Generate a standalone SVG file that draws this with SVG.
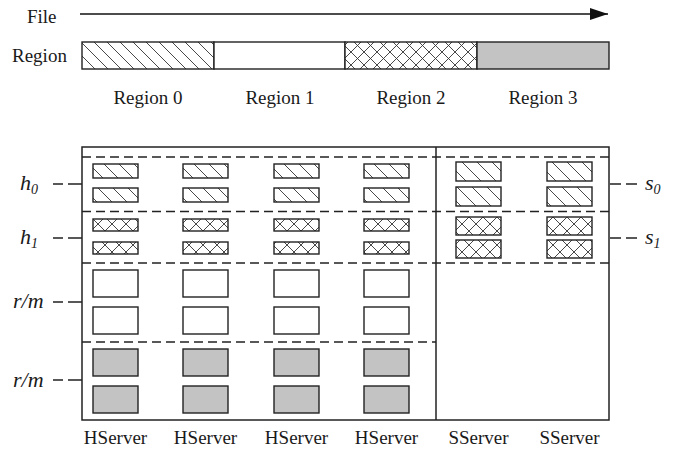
<svg xmlns="http://www.w3.org/2000/svg" width="677" height="450" viewBox="0 0 677 450">
<defs>
<style>
text{font-family:"Liberation Serif","Times New Roman",serif;fill:#1a1a1a}
.lbl{font-size:19px}
.mid{text-anchor:middle}
.it{font-style:italic;font-size:22px}
.sub{font-size:14px;font-style:italic}
.box{stroke:#222;stroke-width:1.4}
.dash{fill:none;stroke:#222;stroke-width:1.3;stroke-dasharray:9 5}
.tick{fill:none;stroke:#222;stroke-width:1.3}
.frame{fill:none;stroke:#222;stroke-width:1.5}
.white{fill:#fff}
.gray{fill:#c3c3c3}
.hatch{fill:url(#hatch)}
.cross{fill:url(#cross)}
.shatch{fill:url(#shatch)}
.scross{fill:url(#scross)}
</style>
<pattern id="hatch" patternUnits="userSpaceOnUse" width="13" height="13">
<rect width="13" height="13" fill="#fff"/>
<path d="M0,0 L13,13 M-2,11 L2,15 M11,-2 L15,2" stroke="#333" stroke-width="0.9"/>
</pattern>
<pattern id="cross" patternUnits="userSpaceOnUse" width="13" height="13">
<rect width="13" height="13" fill="#fff"/>
<path d="M0,0 L13,13 M-2,11 L2,15 M11,-2 L15,2 M13,0 L0,13 M-2,2 L2,-2 M11,15 L15,11" stroke="#333" stroke-width="0.9"/>
</pattern>
<pattern id="shatch" patternUnits="userSpaceOnUse" width="15" height="15">
<rect width="15" height="15" fill="#fff"/>
<path d="M0,0 L15,15 M-2,13 L2,17 M13,-2 L17,2" stroke="#333" stroke-width="0.9"/>
</pattern>
<pattern id="scross" patternUnits="userSpaceOnUse" width="14" height="14">
<rect width="14" height="14" fill="#fff"/>
<path d="M0,0 L14,14 M-2,12 L2,16 M12,-2 L16,2 M14,0 L0,14 M-2,2 L2,-2 M12,16 L16,12" stroke="#333" stroke-width="0.9"/>
</pattern>
<marker id="arrow" markerWidth="18" markerHeight="12" refX="18" refY="6" orient="auto" markerUnits="userSpaceOnUse">
<path d="M0,0 L18,6 L0,12 Z" fill="#111"/>
</marker>
</defs>

<g id="file">
<text class="lbl" x="27" y="23">File</text>
<line x1="80" y1="14" x2="608" y2="14" stroke="#111" stroke-width="1.5" marker-end="url(#arrow)"/>
</g>

<g id="region-bar">
<text class="lbl" x="12" y="62">Region</text>
<rect class="box hatch" x="82" y="42" width="132" height="27"/>
<rect class="box white" x="214" y="42" width="131" height="27"/>
<rect class="box cross" x="345" y="42" width="132" height="27"/>
<rect class="box gray" x="477" y="42" width="132" height="27"/>
<text class="lbl mid" x="148" y="104">Region 0</text>
<text class="lbl mid" x="280" y="104">Region 1</text>
<text class="lbl mid" x="411" y="104">Region 2</text>
<text class="lbl mid" x="543" y="104">Region 3</text>
</g>

<g id="servers-frame">
<rect class="frame" x="82" y="147" width="527" height="273"/>
<line x1="436" y1="147" x2="436" y2="420" stroke="#222" stroke-width="1.5"/>
</g>

<g id="connectors">
<path class="dash" d="M82,157 H609 M82,211.5 H609 M82,263 H609 M82,342 H436"/>
<path class="tick" d="M53,184 H63 M68,184 H82 M53,238 H63 M68,238 H82 M53,302 H63 M68,302 H82 M53,380 H63 M68,380 H82 M610,184 H621 M626,184 H637 M610,238 H621 M626,238 H637"/>
</g>

<g id="labels-left">
<text class="it" x="20" y="190">h<tspan class="sub" dy="4">0</tspan></text>
<text class="it" x="20" y="244">h<tspan class="sub" dy="4">1</tspan></text>
<text class="it" x="13" y="308">r/m</text>
<text class="it" x="13" y="387">r/m</text>
</g>

<g id="labels-right">
<text class="it" x="645" y="190">s<tspan class="sub" dy="4">0</tspan></text>
<text class="it" x="645" y="244">s<tspan class="sub" dy="4">1</tspan></text>
</g>

<g id="hserver-1">
<rect class="box shatch" x="93" y="164" width="45" height="14"/>
<rect class="box shatch" x="93" y="188" width="45" height="14"/>
<rect class="box scross" x="93" y="219" width="45" height="12"/>
<rect class="box scross" x="93" y="242" width="45" height="12"/>
<rect class="box white" x="93" y="270" width="45" height="27"/>
<rect class="box white" x="93" y="307" width="45" height="27"/>
<rect class="box gray" x="93" y="349" width="45" height="27"/>
<rect class="box gray" x="93" y="386" width="45" height="27"/>
<text class="lbl mid" x="115.5" y="444">HServer</text>
</g>
<g id="hserver-2">
<rect class="box shatch" x="183" y="164" width="45" height="14"/>
<rect class="box shatch" x="183" y="188" width="45" height="14"/>
<rect class="box scross" x="183" y="219" width="45" height="12"/>
<rect class="box scross" x="183" y="242" width="45" height="12"/>
<rect class="box white" x="183" y="270" width="45" height="27"/>
<rect class="box white" x="183" y="307" width="45" height="27"/>
<rect class="box gray" x="183" y="349" width="45" height="27"/>
<rect class="box gray" x="183" y="386" width="45" height="27"/>
<text class="lbl mid" x="205.5" y="444">HServer</text>
</g>
<g id="hserver-3">
<rect class="box shatch" x="274" y="164" width="45" height="14"/>
<rect class="box shatch" x="274" y="188" width="45" height="14"/>
<rect class="box scross" x="274" y="219" width="45" height="12"/>
<rect class="box scross" x="274" y="242" width="45" height="12"/>
<rect class="box white" x="274" y="270" width="45" height="27"/>
<rect class="box white" x="274" y="307" width="45" height="27"/>
<rect class="box gray" x="274" y="349" width="45" height="27"/>
<rect class="box gray" x="274" y="386" width="45" height="27"/>
<text class="lbl mid" x="296.5" y="444">HServer</text>
</g>
<g id="hserver-4">
<rect class="box shatch" x="364" y="164" width="45" height="14"/>
<rect class="box shatch" x="364" y="188" width="45" height="14"/>
<rect class="box scross" x="364" y="219" width="45" height="12"/>
<rect class="box scross" x="364" y="242" width="45" height="12"/>
<rect class="box white" x="364" y="270" width="45" height="27"/>
<rect class="box white" x="364" y="307" width="45" height="27"/>
<rect class="box gray" x="364" y="349" width="45" height="27"/>
<rect class="box gray" x="364" y="386" width="45" height="27"/>
<text class="lbl mid" x="386.5" y="444">HServer</text>
</g>
<g id="sserver-1">
<rect class="box shatch" x="456" y="162" width="45" height="19"/>
<rect class="box shatch" x="456" y="187" width="45" height="19"/>
<rect class="box scross" x="456" y="217" width="45" height="18"/>
<rect class="box scross" x="456" y="240" width="45" height="18"/>
<text class="lbl mid" x="478.5" y="444">SServer</text>
</g>
<g id="sserver-2">
<rect class="box shatch" x="547" y="162" width="45" height="19"/>
<rect class="box shatch" x="547" y="187" width="45" height="19"/>
<rect class="box scross" x="547" y="217" width="45" height="18"/>
<rect class="box scross" x="547" y="240" width="45" height="18"/>
<text class="lbl mid" x="569.5" y="444">SServer</text>
</g>
</svg>
